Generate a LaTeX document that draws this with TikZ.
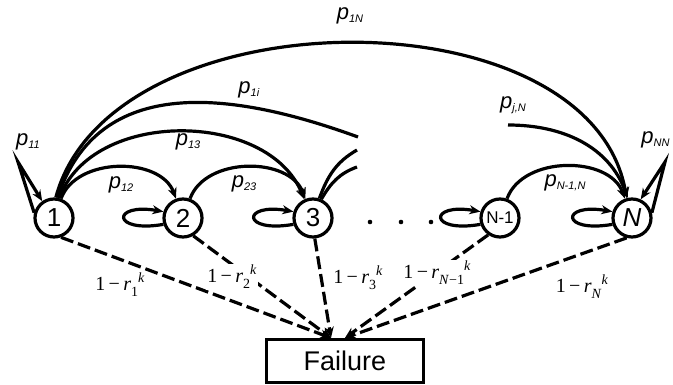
\documentclass[tikz,border=0pt]{standalone}
\usepackage{amsmath,amssymb}
\usepackage{fontspec}
\setmainfont{Liberation Sans}
\newfontfamily\timesfont{Liberation Serif}
\usetikzlibrary{arrows.meta}
\newcommand{\ptr}[1]{\textit{p}\raisebox{-3pt}{\fontsize{11}{11}\selectfont\textit{#1}}}
\newcommand{\rte}[1]{{\timesfont 1\,−\,\textit{r}\raisebox{-6pt}{\fontsize{14}{14}\selectfont #1}\raisebox{8pt}{\fontsize{14}{14}\selectfont\textit{k}}}}

\begin{document}
\begin{tikzpicture}[x=1pt,y=1pt]
        \tikzset{StateStyle/.style={draw, circle, line width=3.2pt, minimum size=38pt,
                inner sep=0pt, font=\fontsize{26}{26}\selectfont},
        ArcStyle/.style={line width=3.2pt},
        EdgeStyle/.style={ArcStyle, -{Stealth[length=11pt,width=9pt]}},
        FailStyle/.style={EdgeStyle, dash pattern=on 13pt off 5pt},
        LabelStyle/.style={font=\fontsize{22}{22}\selectfont},
        RateStyle/.style={fill=white, inner sep=1pt, font=\fontsize{20}{20}\selectfont}}
        \useasboundingbox (0,0) rectangle (673,385);
        \node[StateStyle] (S1) at (54,167) {1};
        \node[StateStyle] (S2) at (183,167) {2};
        \node[StateStyle] (S3) at (313,167) {3};
        \node[StateStyle, font=\fontsize{17}{17}\selectfont] (SN1) at (500,167) {N-1};
        \node[StateStyle] (SN) at (632,167) {\textit{N}};
        \node[draw, line width=3.2pt, minimum width=157pt, minimum height=43pt,
                font=\fontsize{27}{27}\selectfont] (F) at (345,24) {Failure};
        \foreach \x in {370,401,431} \fill (\x,163) circle (2.3pt);
        \coordinate (A1) at (18,223);
        \coordinate (AN) at (665,223);
        \coordinate (T1) at (358,248);
        \coordinate (T3a) at (357,235);
        \coordinate (T3b) at (357,218);
        \coordinate (TN) at (508,260);
        \coordinate (sinkA) at ([xshift=-14pt]F.north);
        \coordinate (sinkB) at ([xshift=0pt]F.north);
        \draw[EdgeStyle] (S1.165) -- (A1) -- (S1.125);
        \draw[EdgeStyle] (SN.15) -- (AN) -- (SN.65);
        \draw[EdgeStyle] (S1.70) to[out=70,in=110] (S2.110);
        \draw[EdgeStyle] (S2.70) to[out=70,in=110] (S3.112);
        \draw[EdgeStyle] (S1.75) to[out=70,in=112] (S3.115);
        \draw[ArcStyle] (S1.80) to[out=72,in=160,looseness=1.1] (T1);
        \draw[EdgeStyle] (S1.85) to[out=75,in=100,looseness=0.95] (SN.105);
        \draw[ArcStyle] (S3.72) to[out=70,in=210] (T3a);
        \draw[ArcStyle] (S3.66) to[out=60,in=200] (T3b);
        \draw[EdgeStyle] (TN) to[out=0,in=110] (SN.102);
        \draw[EdgeStyle] (SN1.70) to[out=70,in=110] (SN.110);
        \foreach \s in {S2,S3,SN1,SN}
                \draw[EdgeStyle] (\s.198) .. controls +(-52,-9) and +(-52,9) .. (\s.162);
        \draw[FailStyle] (S1.290) -- (sinkA);
        \draw[FailStyle] (S2.300) -- (sinkA);
        \draw[FailStyle] (S3.275) -- (sinkA);
        \draw[FailStyle] (SN1.235) -- (sinkB);
        \draw[FailStyle] (SN.255) -- (sinkB);
        \node[LabelStyle] (L11) at (28,243) {\ptr{11}};
        \node[LabelStyle] (L12) at (121,200) {\ptr{12}};
        \node[LabelStyle] (L23) at (244,201) {\ptr{23}};
        \node[LabelStyle] (L13) at (188,243) {\ptr{13}};
        \node[LabelStyle] (L1i) at (249,295) {\ptr{1i}};
        \node[LabelStyle] (L1N) at (350,369) {\ptr{1N}};
        \node[LabelStyle] (LjN) at (513,280) {\ptr{j,N}};
        \node[LabelStyle] (LN1N) at (565,202) {\ptr{N-1,N}};
        \node[LabelStyle, anchor=east] (LNN) at (673,245) {\ptr{NN}};
        \node[RateStyle] (R1) at (120,100) {\rte{1}};
        \node[RateStyle] (R2) at (232,108) {\rte{2}};
        \node[RateStyle] (R3) at (358,107) {\rte{3}};
        \node[RateStyle] (RN1) at (437,112) {\rte{\textit{N}−1}};
        \node[RateStyle] (RN) at (582,98) {\rte{\textit{N}}};
    \end{tikzpicture}
\end{document}
